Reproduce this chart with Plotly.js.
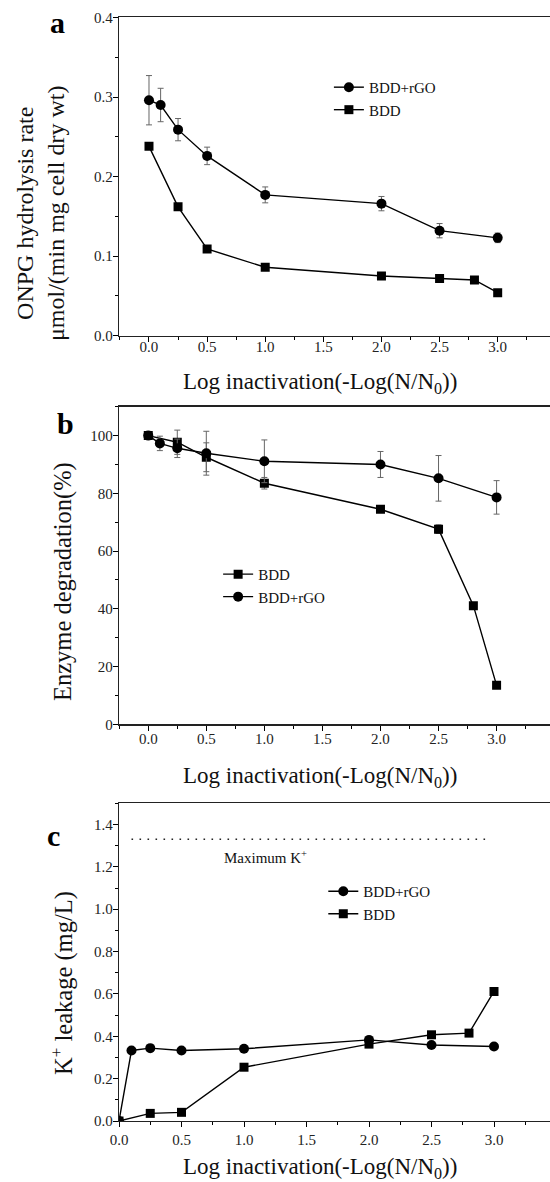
<!DOCTYPE html>
<html>
<head>
<meta charset="utf-8">
<script src="https://cdn.plot.ly/plotly-3.0.1.min.js"></script>
<style>html,body{margin:0;padding:0;background:#fff;}#chart{width:550px;height:1182px;}</style>
</head>
<body>
<div id="chart"></div>
<script>
// ---- data ----
const xRGO = [0, 0.1, 0.25, 0.5, 1.0, 2.0, 2.5, 3.0];
const xBDD = [0, 0.25, 0.5, 1.0, 2.0, 2.5, 2.8, 3.0];

// panel a: ONPG hydrolysis rate
const onpgRGO = [0.296, 0.290, 0.259, 0.226, 0.177, 0.166, 0.132, 0.123];
const onpgRGOErr = [0.031, 0.021, 0.014, 0.011, 0.010, 0.009, 0.009, 0.006];
const onpgBDD = [0.238, 0.162, 0.109, 0.086, 0.075, 0.072, 0.070, 0.054];

// panel b: enzyme degradation (%)
const enzRGO = [100, 97.3, 95.6, 93.9, 91.1, 90.0, 85.2, 78.6];
const enzRGOErr = [0.8, 2.5, 3.2, 7.6, 7.4, 4.5, 7.9, 5.8];
const enzBDD = [100, 97.7, 92.5, 83.5, 74.5, 67.6, 41.1, 13.5];
const enzBDDErr = [0.8, 4.2, 5.0, 2.0, 0.8, 1.5, 0.8, 0.8];

// panel c: K+ leakage (mg/L)
const kRGO = [0.0, 0.333, 0.344, 0.333, 0.341, 0.383, 0.359, 0.352];
const kBDD = [0.0, 0.036, 0.041, 0.254, 0.363, 0.407, 0.415, 0.612];
const maxK = 1.33;
const maxKSpan = [0.1, 2.96];

const xTickVals = [0, 0.5, 1.0, 1.5, 2.0, 2.5, 3.0];
const xTickText = ['0.0', '0.5', '1.0', '1.5', '2.0', '2.5', '3.0'];

const nameRGO = 'BDD+rGO';
const nameBDD = 'BDD';
const xTitle = 'Log inactivation(-Log(N/N<sub>0</sub>))';
const yTitleA = 'ONPG hydrolysis rate<br>μmol/(min mg cell dry wt)';
const yTitleB = 'Enzyme degradation(%)';
const yTitleC = 'K<sup>+</sup> leakage (mg/L)';
const maxKLabel = 'Maximum K<sup>+</sup>';

// ---- style ----
const FONT = '"Liberation Serif", "Times New Roman", serif';
const W = 550, H = 1182, ML = 119;
const lineStyle = {color: '#000', width: 1.4};
const errStyle = {type: 'data', visible: true, color: '#666', thickness: 1, width: 3};

function tr(x, y, name, sym, xa, ya, leg, err) {
  const t = {
    x: x, y: y, name: name, type: 'scatter', mode: 'lines+markers',
    xaxis: xa, yaxis: ya, legend: leg,
    line: lineStyle,
    marker: {symbol: sym, size: sym === 'circle' ? 10 : 9, color: '#000', line: {width: 0}}
  };
  if (err) t.error_y = Object.assign({array: err}, errStyle);
  return t;
}

const traces = [
  tr(xRGO, onpgRGO, nameRGO, 'circle', 'x', 'y', 'legend', onpgRGOErr),
  tr(xBDD, onpgBDD, nameBDD, 'square', 'x', 'y', 'legend'),
  tr(xBDD, enzBDD, nameBDD, 'square', 'x2', 'y2', 'legend2', enzBDDErr),
  tr(xRGO, enzRGO, nameRGO, 'circle', 'x2', 'y2', 'legend2', enzRGOErr),
  tr(xRGO, kRGO, nameRGO, 'circle', 'x3', 'y3', 'legend3'),
  tr(xBDD, kBDD, nameBDD, 'square', 'x3', 'y3', 'legend3')
];

function xax(anchor, range, standoffLbl) {
  return {
    anchor: anchor, domain: [0, 1], range: range,
    tickmode: 'array', tickvals: xTickVals, ticktext: xTickText,
    ticks: 'outside', ticklen: 5, tickwidth: 1, tickcolor: '#000',
    minor: {dtick: 0.25, tick0: 0, ticks: 'outside', ticklen: 3, tickcolor: '#000'},
    showline: true, linecolor: '#222', linewidth: 1.3, mirror: true,
    showgrid: false, zeroline: false,
    tickfont: {family: FONT, size: 15, color: '#222'},
    ticklabelstandoff: standoffLbl
  };
}
function yax(anchor, domain, range, dtick, minorDt, fmt) {
  return {
    anchor: anchor, domain: domain, range: range,
    dtick: dtick, tick0: 0, tickformat: fmt,
    ticks: 'outside', ticklen: 5, tickwidth: 1, tickcolor: '#000',
    minor: {dtick: minorDt, tick0: 0, ticks: 'outside', ticklen: 3, tickcolor: '#000'},
    showline: true, linecolor: '#222', linewidth: 1.3, mirror: false,
    showgrid: false, zeroline: false,
    tickfont: {family: FONT, size: 15, color: '#222'},
    ticklabelstandoff: -3
  };
}

const legendBase = {
  font: {family: FONT, size: 15, color: '#111'},
  bgcolor: 'rgba(0,0,0,0)', borderwidth: 0,
  xanchor: 'left', yanchor: 'top', tracegroupgap: 0, itemwidth: 30
};

// pixel -> paper helpers (margins: l=119, r=0, t=0, b=0)
const px = v => (v - ML) / (W - ML);
const py = v => 1 - v / H;

function txt(text, xp, yp, size, angle, bold) {
  return {
    text: bold ? '<b>' + text + '</b>' : text,
    xref: 'paper', yref: 'paper', x: px(xp), y: py(yp),
    xanchor: 'center', yanchor: 'middle', showarrow: false, textangle: angle || 0,
    font: {family: FONT, size: size, color: bold ? '#000' : '#111'}
  };
}

const layout = {
  width: W, height: H,
  margin: {l: ML, r: 0, t: 0, b: 0},
  paper_bgcolor: '#fff', plot_bgcolor: '#fff',
  font: {family: FONT, color: '#111'},
  showlegend: true,
  xaxis: xax('y', [-0.258, 3.45], -8),
  xaxis2: xax('y2', [-0.252, 3.46], -5),
  xaxis3: xax('y3', [0, 3.448], 0),
  yaxis: yax('x', [0.716, 0.9852], [0, 0.4], 0.1, 0.05, '.1f'),
  yaxis2: yax('x2', [0.3872, 0.6559], [0, 110], 20, 10, 'd'),
  yaxis3: yax('x3', [0.0516, 0.3204], [0, 1.5], 0.2, 0.1, '.1f'),
  legend: Object.assign({x: 0.487, y: 0.940}, legendBase),
  legend2: Object.assign({x: 0.23, y: 0.528}, legendBase),
  legend3: Object.assign({x: 0.474, y: 0.2597}, legendBase),
  shapes: [{
    type: 'line', xref: 'x3', yref: 'y3',
    x0: maxKSpan[0], x1: maxKSpan[1], y0: maxK, y1: maxK,
    line: {color: '#222', width: 1.6, dash: '1.6px,6.4px'}
  }],
  annotations: [
    {text: maxKLabel, xref: 'x3', yref: 'y3', x: 1.17, y: 1.245,
     showarrow: false, font: {family: FONT, size: 15, color: '#111'}},
    txt('a', 57, 23, 30, 0, true),
    txt('b', 65, 423, 30, 0, true),
    txt('c', 53, 835, 30, 0, true),
    txt(xTitle, 320, 383, 23),
    txt(xTitle, 320, 777, 23),
    txt(xTitle, 320, 1168, 23),
    txt(yTitleA, 40, 213, 24, -90),
    txt(yTitleB, 63, 582, 24.5, -90),
    txt(yTitleC, 62, 983, 24.5, -90)
  ]
};

Plotly.newPlot('chart', traces, layout, {displayModeBar: false, staticPlot: true});
</script>
</body>
</html>
